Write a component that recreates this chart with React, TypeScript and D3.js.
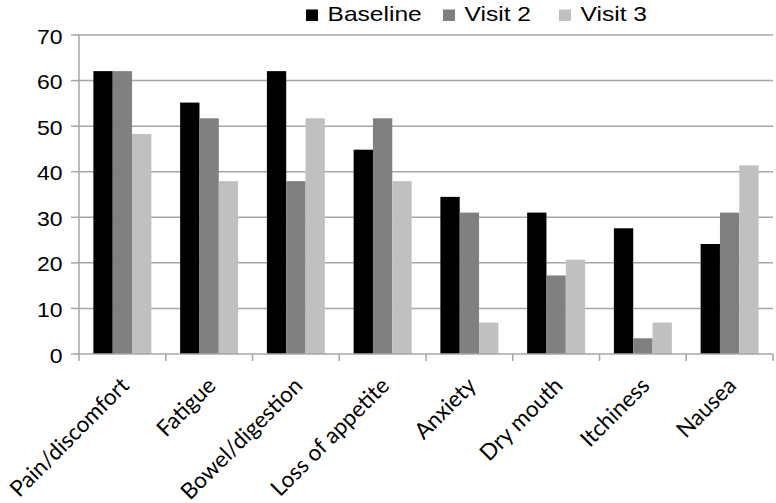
import React from "react";
import * as d3 from "d3";

const categories = ["Pain/discomfort", "Fatigue", "Bowel/digestion", "Loss of appetite", "Anxiety", "Dry mouth", "Itchiness", "Nausea"];
const seriesNames = ["Baseline", "Visit 2", "Visit 3"];
const baseline = [62.07, 55.17, 62.07, 44.83, 34.48, 31.03, 27.59, 24.14];
const visit2 = [62.07, 51.72, 37.93, 51.72, 31.03, 17.24, 3.45, 31.03];
const visit3 = [48.28, 37.93, 51.72, 37.93, 6.9, 20.69, 6.9, 41.38];
const yTicks = [0, 10, 20, 30, 40, 50, 60, 70];
const colors = ["#000000", "#808080", "#c0c0c0"];

export default function App() {
  const W = 776, H = 503;
  const left = 79, right = 773, top = 35, bottom = 354;
  const x = d3.scaleBand<string>().domain(categories).range([left, right]).paddingInner(0).paddingOuter(0);
  const xs = d3.scaleBand<string>().domain(seriesNames).range([0, x.bandwidth()]).paddingInner(0).paddingOuter(0.744);
  const y = d3.scaleLinear().domain([0, 70]).range([bottom, top]);
  const series = [baseline, visit2, visit3];
  const gridColor = "#a6a6a6";
  const legendX = [306, 443, 559];

  return (
    <svg width={W} height={H} style={{ position: "absolute", left: 0, top: 0, background: "#fff" }}>
      <rect width={W} height={H} fill="#fff" />
      {yTicks.map((t) => (
        <g key={t}>
          {t > 0 && <line x1={left} x2={right} y1={y(t)} y2={y(t)} stroke={gridColor} strokeWidth={1.5} />}
          <line x1={left - 8} x2={left} y1={y(t)} y2={y(t)} stroke={gridColor} strokeWidth={1.5} />
          <text
            transform={`translate(${left - 16.5},${y(t) + 8.5}) scale(1.15,1)`}
            textAnchor="end"
            fontFamily="Liberation Sans, Arial, sans-serif"
            fontSize={20}
            fill="#000"
          >
            {t}
          </text>
        </g>
      ))}
      {series.map((vals, si) =>
        vals.map((v, ci) => (
          <rect
            key={`${si}-${ci}`}
            x={(x(categories[ci]) as number) + (xs(seriesNames[si]) as number)}
            y={y(v)}
            width={xs.bandwidth()}
            height={y(0) - y(v)}
            fill={colors[si]}
          />
        ))
      )}
      <line x1={left} x2={left} y1={top} y2={bottom} stroke={gridColor} strokeWidth={1.5} />
      <line x1={left} x2={right} y1={bottom} y2={bottom} stroke={gridColor} strokeWidth={1.5} />
      {categories.map((c, i) => (
        <line key={"t" + i} x1={x(c) as number} x2={x(c) as number} y1={bottom} y2={bottom + 7} stroke={gridColor} strokeWidth={1.5} />
      ))}
      <line x1={right} x2={right} y1={bottom} y2={bottom + 7} stroke={gridColor} strokeWidth={1.5} />
      {categories.map((c) => {
        const cx = (x(c) as number) + x.bandwidth() / 2;
        return (
          <text
            key={"l" + c}
            transform={`translate(${cx + 8},${bottom + 33}) rotate(-45)`}
            textAnchor="end"
            fontFamily="Lato, Open Sans, sans-serif"
            fontSize={22.5}
            fill="#000"
          >
            {c}
          </text>
        );
      })}
      {seriesNames.map((s, i) => (
        <g key={"lg" + s}>
          <rect x={legendX[i]} y={9.5} width={12} height={11.5} fill={colors[i]} />
          <text
            transform={`translate(${legendX[i] + 21.5},${20.7}) scale(1.2,1)`}
            fontFamily="Liberation Sans, Arial, sans-serif"
            fontSize={20.5}
            fill="#000"
          >
            {s}
          </text>
        </g>
      ))}
    </svg>
  );
}
